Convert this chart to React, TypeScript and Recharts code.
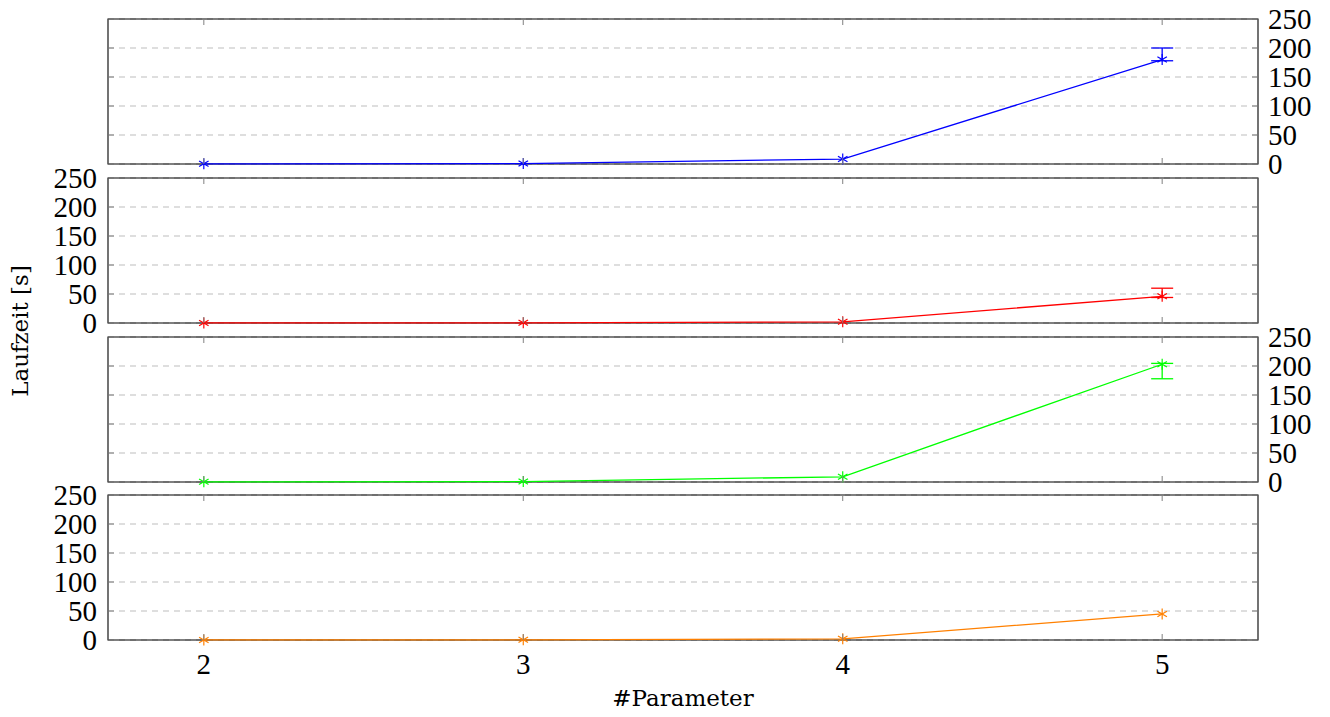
import React from "react";
import {
  LineChart,
  Line,
  XAxis,
  YAxis,
  CartesianGrid,
  ErrorBar,
  ReferenceArea,
} from "recharts";

// #Parameter values on the x axis
const PARAMS = [2, 3, 4, 5];
const X_TICKS = [2, 3, 4, 5];
const Y_TICKS = [0, 50, 100, 150, 200, 250];

// Laufzeit [s] per panel
const blueTimes = [0.3, 0.8, 8.5, 180];
const blueErrors = [null, null, null, [2, 20]];
const redTimes = [0.1, 0.3, 2, 46];
const redErrors = [null, null, null, [2, 14]];
const greenTimes = [0.3, 0.8, 9, 203];
const greenErrors = [null, null, null, [25, 1.5]];
const orangeTimes = [0.1, 0.3, 2, 45];

const W = 1330;
const PL = 108;
const PR = 1258;
const PLOT_H = 145;
const MT = 22;
const AX = 1; // axis thickness, recharts skips axes of size 0
const TICK_FONT = "Liberation Serif";
const TITLE_FONT = "DejaVu Serif";

const tickText = { fontFamily: TICK_FONT, fontSize: 29 };

const Asterisk = (props: any) => {
  const { cx, cy, color } = props;
  if (cx == null || cy == null) return null;
  const r = 5.5;
  const dx = r * Math.cos(Math.PI / 6);
  const dy = r * Math.sin(Math.PI / 6);
  return (
    <g stroke={color} strokeWidth={1.2}>
      <line x1={cx} y1={cy - r} x2={cx} y2={cy + r} />
      <line x1={cx - dx} y1={cy - dy} x2={cx + dx} y2={cy + dy} />
      <line x1={cx - dx} y1={cy + dy} x2={cx + dx} y2={cy - dy} />
    </g>
  );
};

type PanelProps = {
  times: number[];
  errors?: (number[] | null)[];
  color: string;
  side: "left" | "right";
  showX: boolean;
  top: number;
};

const Panel = ({ times, errors, color, side, showX, top }: PanelProps) => {
  const mb = showX ? 50 : 22;
  const data = PARAMS.map((p, i) => ({
    p,
    t: times[i],
    err: errors && errors[i] ? errors[i] : undefined,
  }));

  const YTick = (props: any) => {
    const { y, payload } = props;
    return (
      <g>
        <line x1={PL} x2={PL + 6} y1={y} y2={y} stroke="#808080" />
        <line x1={PR - 6} x2={PR} y1={y} y2={y} stroke="#808080" />
        <text
          x={side === "left" ? PL - 11 : PR + 10}
          y={y}
          textAnchor={side === "left" ? "end" : "start"}
          dominantBaseline="central"
          style={tickText}
          fill="#000"
        >
          {payload.value}
        </text>
      </g>
    );
  };

  const XTick = (props: any) => {
    const { x, payload } = props;
    return (
      <g>
        <line x1={x} x2={x} y1={MT} y2={MT + 6} stroke="#808080" />
        <line x1={x} x2={x} y1={MT + PLOT_H - 6} y2={MT + PLOT_H} stroke="#808080" />
        {showX && (
          <text
            x={x}
            y={MT + PLOT_H + 24}
            textAnchor="middle"
            dominantBaseline="central"
            style={tickText}
            fill="#000"
          >
            {payload.value}
          </text>
        )}
      </g>
    );
  };

  return (
    <div style={{ position: "absolute", left: 0, top: top - MT }}>
      <LineChart
        width={W}
        height={MT + PLOT_H + mb}
        data={data}
        margin={{
          top: MT,
          right: side === "right" ? W - PR - AX : W - PR,
          bottom: mb - AX,
          left: side === "left" ? PL - AX : PL,
        }}
      >
        <CartesianGrid
          vertical={false}
          stroke="#bdbdbd"
          strokeDasharray="6 5"
        />
        <XAxis
          dataKey="p"
          type="number"
          domain={[1.7, 5.3]}
          allowDataOverflow
          ticks={X_TICKS}
          interval={0}
          height={AX}
          axisLine={false}
          tickLine={false}
          tick={XTick}
        />
        <YAxis
          type="number"
          domain={[0, 250]}
          ticks={Y_TICKS}
          interval={0}
          width={AX}
          orientation={side}
          axisLine={false}
          tickLine={false}
          tick={YTick}
        />
        <ReferenceArea
          x1={1.7}
          x2={5.3}
          y1={0}
          y2={250}
          fill="none"
          fillOpacity={0}
          stroke="#000"
          strokeWidth={1.1}
          ifOverflow="visible"
        />
        <Line
          type="linear"
          dataKey="t"
          stroke={color}
          strokeWidth={1.3}
          isAnimationActive={false}
          activeDot={false}
          dot={(p: any) => <Asterisk key={p.index} {...p} color={color} />}
        >
          {errors && (
            <ErrorBar
              dataKey="err"
              direction="y"
              width={11}
              stroke={color}
              strokeWidth={1.3}
              isAnimationActive={false}
            />
          )}
        </Line>
      </LineChart>
    </div>
  );
};

export default function App() {
  return (
    <div
      style={{
        position: "absolute",
        left: 0,
        top: 0,
        width: W,
        height: 717,
        background: "#fff",
      }}
    >
      <Panel times={blueTimes} errors={blueErrors} color="#0000ff" side="right" showX={false} top={19} />
      <Panel times={redTimes} errors={redErrors} color="#ff0000" side="left" showX={false} top={178} />
      <Panel times={greenTimes} errors={greenErrors} color="#00ff00" side="right" showX={false} top={337} />
      <Panel times={orangeTimes} color="#ff8000" side="left" showX={true} top={495} />
      <svg
        width={W}
        height={717}
        style={{ position: "absolute", left: 0, top: 0, pointerEvents: "none" }}
      >
        <text
          x={683}
          y={698}
          textAnchor="middle"
          dominantBaseline="central"
          style={{ fontFamily: TITLE_FONT, fontSize: 23 }}
          fill="#000"
        >
          #Parameter
        </text>
        <text
          x={20}
          y={331}
          textAnchor="middle"
          dominantBaseline="central"
          style={{ fontFamily: TITLE_FONT, fontSize: 23 }}
          fill="#000"
          transform="rotate(-90 20 331)"
        >
          Laufzeit [s]
        </text>
      </svg>
    </div>
  );
}
